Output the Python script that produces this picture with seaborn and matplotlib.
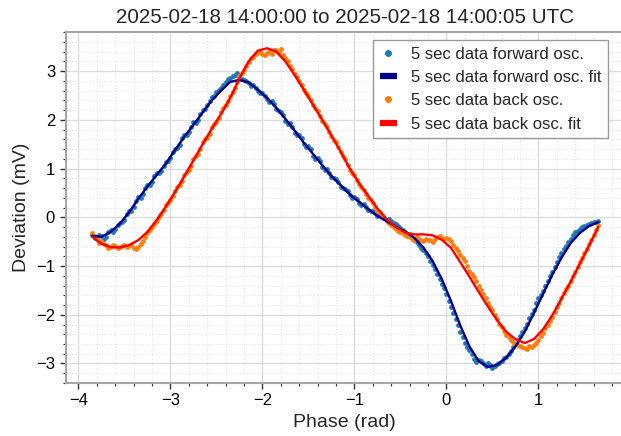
import numpy as np
import pandas as pd
import matplotlib
matplotlib.use("Agg")
import matplotlib.pyplot as plt
from matplotlib.ticker import MultipleLocator
from matplotlib.lines import Line2D
import seaborn as sns

# ---------------- data ----------------
phase = [-3.85, -3.80, -3.75, -3.70, -3.65, -3.60, -3.55, -3.50, -3.45, -3.40,
         -3.35, -3.30, -3.25, -3.20, -3.15, -3.10, -3.05, -3.00, -2.95, -2.90,
         -2.85, -2.80, -2.75, -2.70, -2.65, -2.60, -2.55, -2.50, -2.45, -2.40,
         -2.35, -2.30, -2.25, -2.20, -2.15, -2.10, -2.05, -2.00, -1.95, -1.90,
         -1.85, -1.80, -1.75, -1.70, -1.65, -1.60, -1.55, -1.50, -1.45, -1.40,
         -1.35, -1.30, -1.25, -1.20, -1.15, -1.10, -1.05, -1.00, -0.95, -0.90,
         -0.85, -0.80, -0.75, -0.70, -0.65, -0.60, -0.55, -0.50, -0.45, -0.40,
         -0.35, -0.30, -0.25, -0.20, -0.15, -0.10, -0.05, 0.00, 0.05, 0.10,
         0.15, 0.20, 0.25, 0.30, 0.35, 0.40, 0.45, 0.50, 0.55, 0.60,
         0.65, 0.70, 0.75, 0.80, 0.85, 0.90, 0.95, 1.00, 1.05, 1.10,
         1.15, 1.20, 1.25, 1.30, 1.35, 1.40, 1.45, 1.50, 1.55, 1.60, 1.65]

forward_data = [-0.36, -0.45, -0.38, -0.40, -0.26, -0.24, -0.12, -0.05, 0.12, 0.22,
                0.42, 0.48, 0.66, 0.72, 0.90, 0.95, 1.14, 1.22, 1.40, 1.49,
                1.70, 1.76, 1.95, 2.00, 2.20, 2.30, 2.46, 2.58, 2.66, 2.78,
                2.86, 2.92, 2.88, 2.82, 2.76, 2.72, 2.60, 2.56, 2.42, 2.38,
                2.22, 2.16, 1.98, 1.94, 1.74, 1.68, 1.50, 1.46, 1.26, 1.22,
                1.04, 0.99, 0.82, 0.78, 0.63, 0.58, 0.45, 0.42, 0.30, 0.27,
                0.16, 0.12, 0.02, 0.00, -0.06, -0.08, -0.14, -0.22, -0.30, -0.38,
                -0.46, -0.56, -0.68, -0.80, -0.98, -1.16, -1.36, -1.58, -1.84, -2.08,
                -2.36, -2.58, -2.72, -2.90, -2.92, -3.00, -2.98, -3.10, -3.02, -2.94,
                -2.86, -2.74, -2.60, -2.44, -2.28, -2.06, -1.90, -1.66, -1.52, -1.30,
                -1.12, -0.92, -0.74, -0.58, -0.44, -0.30, -0.24, -0.18, -0.14, -0.10, -0.08]

back_data = [-0.32, -0.42, -0.48, -0.56, -0.60, -0.58, -0.60, -0.56, -0.58, -0.62,
             -0.60, -0.48, -0.32, -0.20, -0.08, 0.06, 0.25, 0.36, 0.55, 0.66,
             0.86, 0.98, 1.20, 1.30, 1.54, 1.62, 1.85, 1.96, 2.16, 2.30,
             2.50, 2.66, 2.90, 3.02, 3.18, 3.30, 3.40, 3.36, 3.38, 3.36,
             3.44, 3.46, 3.28, 3.10, 2.95, 2.80, 2.62, 2.50, 2.30, 2.18,
             1.98, 1.86, 1.66, 1.54, 1.34, 1.20, 0.98, 0.86, 0.68, 0.56,
             0.40, 0.30, 0.14, 0.04, -0.08, -0.16, -0.24, -0.30, -0.36, -0.40,
             -0.46, -0.44, -0.48, -0.46, -0.50, -0.40, -0.42, -0.42, -0.48, -0.62,
             -0.78, -0.90, -1.10, -1.22, -1.40, -1.58, -1.76, -1.90, -2.08, -2.26,
             -2.42, -2.52, -2.60, -2.64, -2.68, -2.64, -2.62, -2.52, -2.38, -2.20,
             -2.04, -1.84, -1.66, -1.48, -1.30, -1.12, -0.92, -0.74, -0.54, -0.36, -0.16]

phase_mid = [-3.825, -3.775, -3.725, -3.675, -3.625, -3.575, -3.525, -3.475, -3.425, -3.375,
             -3.325, -3.275, -3.225, -3.175, -3.125, -3.075, -3.025, -2.975, -2.925, -2.875,
             -2.825, -2.775, -2.725, -2.675, -2.625, -2.575, -2.525, -2.475, -2.425, -2.375,
             -2.325, -2.275, -2.225, -2.175, -2.125, -2.075, -2.025, -1.975, -1.925, -1.875,
             -1.825, -1.775, -1.725, -1.675, -1.625, -1.575, -1.525, -1.475, -1.425, -1.375,
             -1.325, -1.275, -1.225, -1.175, -1.125, -1.075, -1.025, -0.975, -0.925, -0.875,
             -0.825, -0.775, -0.725, -0.675, -0.625, -0.575, -0.525, -0.475, -0.425, -0.375,
             -0.325, -0.275, -0.225, -0.175, -0.125, -0.075, -0.025, 0.025, 0.075, 0.125,
             0.175, 0.225, 0.275, 0.325, 0.375, 0.425, 0.475, 0.525, 0.575, 0.625,
             0.675, 0.725, 0.775, 0.825, 0.875, 0.925, 0.975, 1.025, 1.075, 1.125,
             1.175, 1.225, 1.275, 1.325, 1.375, 1.425, 1.475, 1.525, 1.575, 1.625]

forward_mid = [-0.42, -0.36, -0.44, -0.30, -0.30, -0.16, -0.10, 0.06, 0.14, 0.34,
               0.40, 0.60, 0.66, 0.84, 0.90, 1.06, 1.15, 1.34, 1.42, 1.62,
               1.70, 1.86, 1.93, 2.12, 2.22, 2.38, 2.50, 2.62, 2.72, 2.84,
               2.90, 2.96, 2.84, 2.80, 2.70, 2.66, 2.55, 2.50, 2.36, 2.32,
               2.18, 2.10, 1.92, 1.86, 1.70, 1.62, 1.44, 1.40, 1.20, 1.16,
               0.98, 0.92, 0.80, 0.72, 0.60, 0.54, 0.40, 0.38, 0.25, 0.22,
               0.14, 0.08, 0.04, -0.02, -0.04, -0.12, -0.18, -0.26, -0.34, -0.42,
               -0.50, -0.62, -0.74, -0.90, -1.06, -1.26, -1.46, -1.72, -1.96, -2.22,
               -2.46, -2.66, -2.80, -2.96, -2.94, -3.06, -3.04, -3.06, -2.98, -2.88,
               -2.80, -2.66, -2.52, -2.36, -2.18, -1.98, -1.76, -1.60, -1.40, -1.20,
               -1.02, -0.82, -0.66, -0.50, -0.36, -0.28, -0.20, -0.16, -0.12, -0.09]

back_mid = [-0.38, -0.52, -0.54, -0.62, -0.56, -0.62, -0.58, -0.60, -0.56, -0.64,
            -0.54, -0.40, -0.26, -0.14, 0.00, 0.16, 0.30, 0.44, 0.62, 0.74,
            0.94, 1.06, 1.26, 1.40, 1.60, 1.72, 1.92, 2.04, 2.24, 2.38,
            2.58, 2.78, 2.96, 3.10, 3.26, 3.36, 3.40, 3.34, 3.40, 3.44,
            3.40, 3.34, 3.20, 3.04, 2.88, 2.72, 2.56, 2.40, 2.24, 2.08,
            1.92, 1.76, 1.58, 1.44, 1.26, 1.08, 0.92, 0.76, 0.62, 0.48,
            0.36, 0.22, 0.10, -0.02, -0.12, -0.20, -0.28, -0.32, -0.38, -0.42,
            -0.40, -0.46, -0.44, -0.46, -0.44, -0.38, -0.44, -0.44, -0.56, -0.70,
            -0.84, -1.00, -1.16, -1.30, -1.50, -1.66, -1.84, -2.00, -2.18, -2.34,
            -2.46, -2.56, -2.62, -2.66, -2.70, -2.66, -2.58, -2.44, -2.28, -2.12,
            -1.94, -1.76, -1.56, -1.40, -1.20, -1.02, -0.84, -0.64, -0.46, -0.26]

fit_phase = [-3.85, -3.75, -3.65, -3.55, -3.45, -3.35, -3.25, -3.15, -3.05, -2.95,
             -2.85, -2.75, -2.65, -2.55, -2.45, -2.35, -2.25, -2.15, -2.05, -1.95,
             -1.85, -1.75, -1.65, -1.55, -1.45, -1.35, -1.25, -1.15, -1.05, -0.95,
             -0.85, -0.75, -0.65, -0.55, -0.45, -0.35, -0.25, -0.15, -0.05, 0.05,
             0.15, 0.25, 0.35, 0.45, 0.55, 0.65, 0.75, 0.85, 0.95, 1.05,
             1.15, 1.25, 1.35, 1.45, 1.55, 1.65]

forward_fit = [-0.38, -0.40, -0.30, -0.13, 0.10, 0.38, 0.63, 0.87, 1.10, 1.38,
               1.65, 1.90, 2.15, 2.40, 2.60, 2.78, 2.82, 2.77, 2.62, 2.45,
               2.25, 2.02, 1.78, 1.53, 1.30, 1.07, 0.85, 0.66, 0.47, 0.32,
               0.17, 0.03, -0.08, -0.19, -0.29, -0.42, -0.62, -0.90, -1.27, -1.72,
               -2.22, -2.65, -2.95, -3.07, -3.03, -2.88, -2.65, -2.35, -1.97, -1.57,
               -1.18, -0.83, -0.53, -0.32, -0.18, -0.10]

back_fit = [-0.40, -0.54, -0.61, -0.62, -0.57, -0.47, -0.30, -0.06, 0.22, 0.52,
            0.84, 1.17, 1.50, 1.82, 2.12, 2.45, 2.85, 3.20, 3.42, 3.47,
            3.40, 3.20, 2.92, 2.62, 2.31, 2.00, 1.68, 1.35, 1.00, 0.70,
            0.44, 0.18, -0.04, -0.20, -0.31, -0.35, -0.35, -0.37, -0.46, -0.63,
            -0.92, -1.22, -1.53, -1.83, -2.11, -2.35, -2.50, -2.58, -2.50, -2.30,
            -2.01, -1.67, -1.32, -0.95, -0.58, -0.20]

labels = ["5 sec data forward osc.", "5 sec data forward osc. fit",
          "5 sec data back osc.", "5 sec data back osc. fit"]
title = "2025-02-18 14:00:00 to 2025-02-18 14:00:05 UTC"

# ---------------- style ----------------
sns.set_style("ticks")
plt.rcParams['font.family'] = ['Liberation Sans', 'DejaVu Sans']

c_fwd = "#1f77b4"
c_fwd_fit = "#00008b"
c_back = "#ff7f0e"
c_back_fit = "#ff0000"

fig = plt.figure(figsize=(6.21, 4.36), dpi=100)
ax = fig.add_axes([0.1055, 0.1216, 0.8994, 0.8057])

fwd_x = phase + phase_mid
fwd_y = forward_data + forward_mid
back_x = phase + phase_mid
back_y = back_data + back_mid

sns.scatterplot(x=fwd_x, y=fwd_y, color=c_fwd, s=12, linewidth=0, ax=ax, zorder=3)
sns.lineplot(x=fit_phase, y=forward_fit, color=c_fwd_fit, lw=1.7, ax=ax, zorder=4)
sns.scatterplot(x=back_x, y=back_y, color=c_back, s=12, linewidth=0, ax=ax, zorder=3)
sns.lineplot(x=fit_phase, y=back_fit, color=c_back_fit, lw=1.7, ax=ax, zorder=4)

ax.set_xlim(-4.14, 1.93)
ax.set_ylim(-3.40, 3.81)

ax.xaxis.set_major_locator(MultipleLocator(1))
ax.yaxis.set_major_locator(MultipleLocator(1))
ax.xaxis.set_minor_locator(MultipleLocator(0.2))
ax.yaxis.set_minor_locator(MultipleLocator(0.2))

ax.grid(which='major', color='#dcdcdc', lw=1.0, ls='-', zorder=0)
ax.grid(which='minor', color='#e6e6e6', lw=0.8, ls=':', zorder=0)
ax.set_axisbelow(True)

for sp in ax.spines.values():
    sp.set_color('#a6a6a6')
    sp.set_linewidth(1.5)

ax.tick_params(which='major', direction='out', length=4, width=1, color='#333333',
               labelsize=12, labelcolor='black')
ax.tick_params(which='minor', direction='out', length=2.2, width=0.8, color='#333333')

ax.set_xlabel("Phase (rad)", fontsize=14)
ax.set_ylabel("Deviation (mV)", fontsize=14)
ax.set_title(title, fontsize=14.8)

handles = [
    Line2D([], [], ls='none', marker='o', markersize=5, color=c_fwd, markeredgewidth=0),
    Line2D([], [], lw=4.5, color=c_fwd_fit, solid_capstyle='butt'),
    Line2D([], [], ls='none', marker='o', markersize=5, color=c_back, markeredgewidth=0),
    Line2D([], [], lw=4.5, color=c_back_fit, solid_capstyle='butt'),
]
leg = ax.legend(handles, labels, loc='upper right', fontsize=12,
                bbox_to_anchor=(608 / 621, 1 - 40 / 436), bbox_transform=fig.transFigure,
                borderaxespad=0, fancybox=False, framealpha=1, edgecolor='#999999',
                handlelength=1.0, handletextpad=0.85)
leg.get_frame().set_linewidth(1.0)

fig.savefig("out.png", dpi=100)
